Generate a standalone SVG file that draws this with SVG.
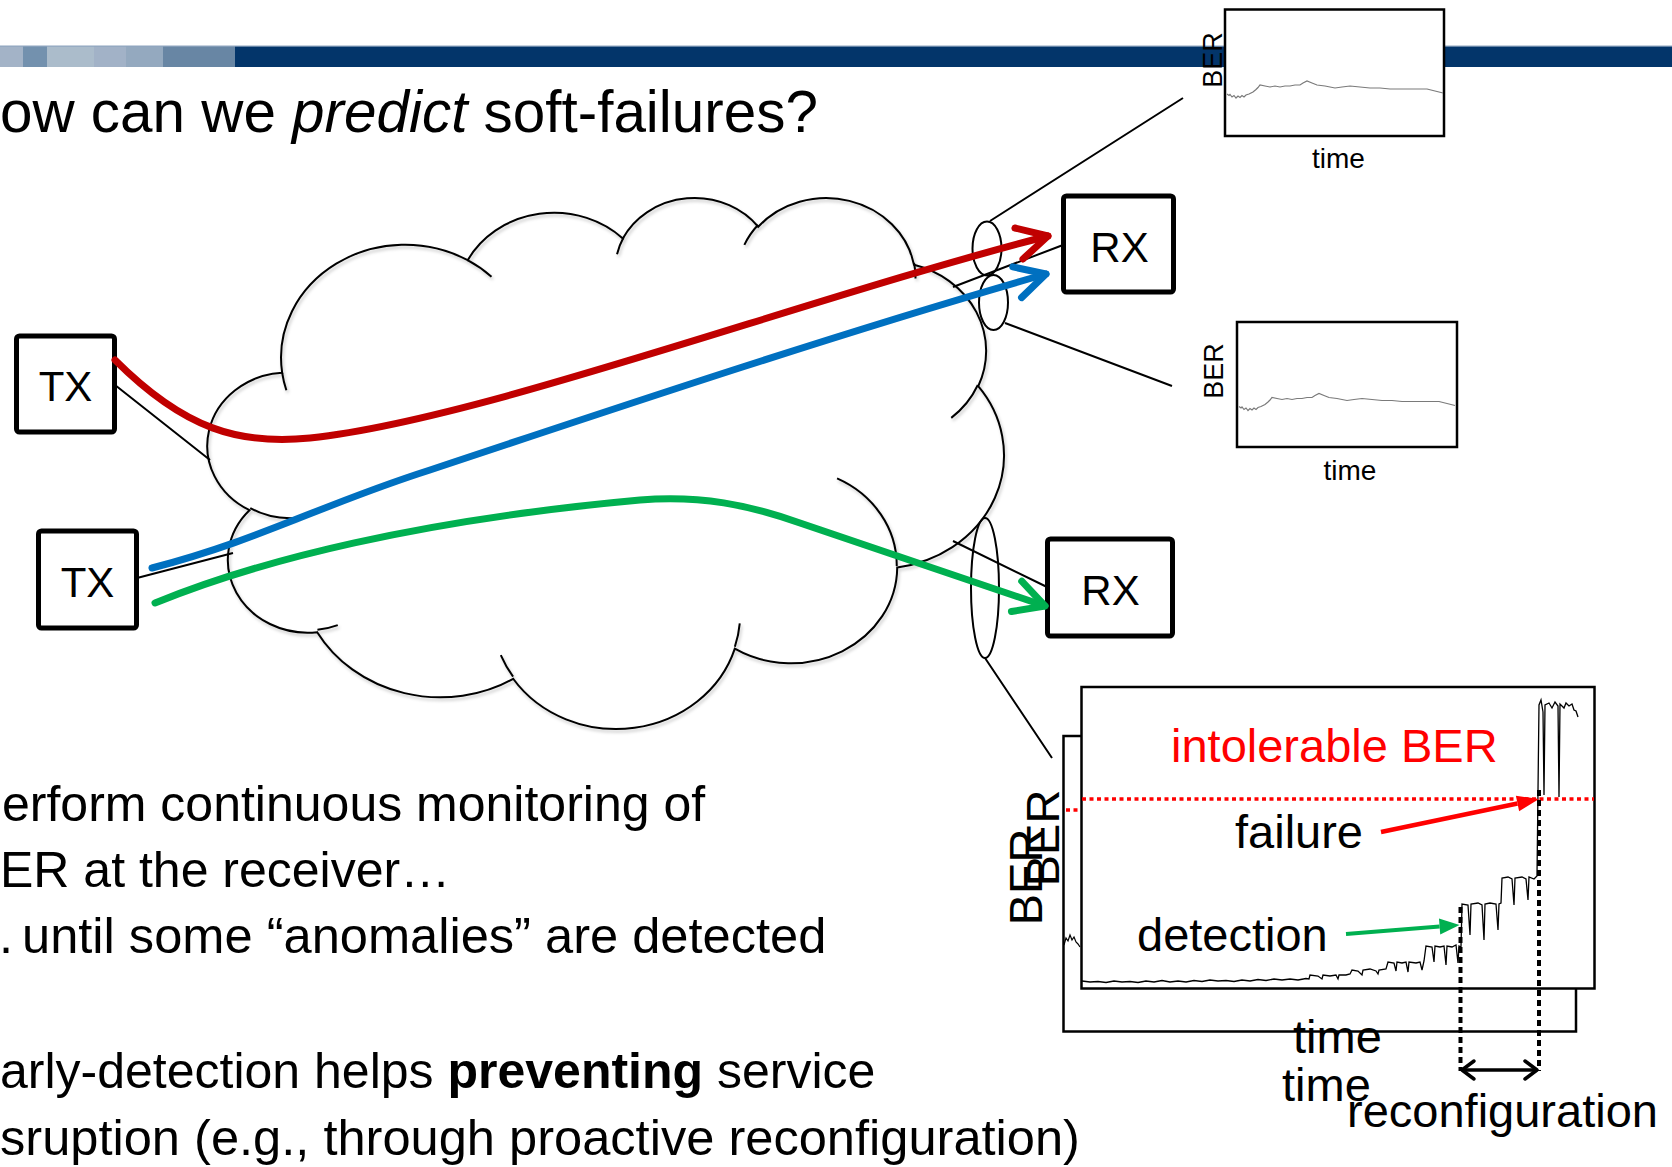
<svg xmlns="http://www.w3.org/2000/svg" width="1672" height="1167" viewBox="0 0 1672 1167">
<defs>
<style>
.t{font-family:"Liberation Sans",Arial,Helvetica,sans-serif;fill:#000}
.box{fill:#fff;stroke:#000;stroke-width:5}
.lbl{font-size:42px;text-anchor:middle}
.thin{fill:none;stroke:#000;stroke-width:2}
.cl{fill:none;stroke:#000;stroke-width:2;vector-effect:non-scaling-stroke}
.route{fill:none;stroke-width:7;stroke-linecap:round}
.frame{fill:#fff;stroke:#000;stroke-width:2.5}
.trace{fill:none;stroke:#7a7a7a;stroke-width:1.2}
.axis{font-size:27px;text-anchor:middle}
.big{font-size:47px}
</style>
<filter id="soft" x="-5%" y="-5%" width="112%" height="115%">
<feDropShadow dx="1.5" dy="2.5" stdDeviation="1.6" flood-color="#000" flood-opacity="0.22"/>
</filter>
<marker id="hd-red" markerUnits="userSpaceOnUse" orient="auto" style="overflow:visible">
<path d="M-30,-16 L0,0 L-30,16" fill="none" stroke="#C00000" stroke-width="7" stroke-linecap="round" stroke-linejoin="round"/>
</marker>
<marker id="hd-blue" markerUnits="userSpaceOnUse" orient="auto" style="overflow:visible">
<path d="M-30,-16 L0,0 L-30,16" fill="none" stroke="#0070C0" stroke-width="7" stroke-linecap="round" stroke-linejoin="round"/>
</marker>
<marker id="hd-green" markerUnits="userSpaceOnUse" orient="auto" style="overflow:visible">
<path d="M-30,-16 L0,0 L-30,16" fill="none" stroke="#00B050" stroke-width="7" stroke-linecap="round" stroke-linejoin="round"/>
</marker>
<marker id="tri-red" markerUnits="userSpaceOnUse" orient="auto" style="overflow:visible">
<path d="M0,-8 L22,0 L0,8 Z" fill="#FF0000"/>
</marker>
<marker id="tri-green" markerUnits="userSpaceOnUse" orient="auto" style="overflow:visible">
<path d="M0,-8 L20,0 L0,8 Z" fill="#00B050"/>
</marker>
<marker id="chev-k" markerUnits="userSpaceOnUse" orient="auto-start-reverse" style="overflow:visible">
<path d="M-12,-9 L0,0 L-12,9" fill="none" stroke="#000" stroke-width="3.5" stroke-linecap="round" stroke-linejoin="round"/>
</marker>
<path id="ber-trace" d="M2,84.5 L4,86 L5,85 L7,87.5 L9,86 L11,88.5 L13,86.5 L15,88 L17,86 L19,87.5 L21,85.5 L24,84.5 L28,82.5 L31,80 L33,78 L35,75.5 L40,76.5 L45,77.5 L50,76.5 L55,77.5 L60,76.5 L65,76.5 L70,75.5 L75,75.5 L78,73.5 L82,71.5 L87,73.5 L92,75.5 L100,76.5 L110,78.5 L117,77.5 L125,76.5 L135,77.5 L145,78.5 L155,78.5 L165,79.5 L178,79.5 L190,79.5 L202,79.5 L210,81.5 L218,83.5"/>
</defs>

<rect width="1672" height="1167" fill="#fff"/>

<!-- header stripe -->
<g id="header-bar">
<rect x="0" y="46" width="1672" height="21" fill="#03356A"/>
<rect x="0" y="46" width="23" height="21" fill="#A3B3C7"/>
<rect x="23" y="46" width="24" height="21" fill="#7391AE"/>
<rect x="47" y="46" width="47" height="21" fill="#ABBCCB"/>
<rect x="94" y="46" width="32" height="21" fill="#A2B2C7"/>
<rect x="126" y="46" width="37" height="21" fill="#94A9BF"/>
<rect x="163" y="46" width="72" height="21" fill="#6886A4"/>
<rect x="0" y="45.5" width="1672" height="1.2" fill="#8FA6BF"/>
</g>

<!-- title -->
<text id="title" class="t" x="0" y="132" font-size="58.4">ow can we <tspan font-style="italic">predict</tspan> soft-failures?</text>

<!-- network cloud (standard cloud outline, lobes + inner seams) -->
<g id="cloud">
<path fill="#fff" transform="translate(210.6 196.3) scale(0.018356 0.012287)" d="M3900,14370 A6753,9190 0 0 1 14005,5202 A5333,7267 0 0 1 22457,3431 A4365,5945 0 0 1 29833,2478 A4857,6595 0 0 1 38319,5572 A5333,7273 0 0 1 41819,15456 A6775,9220 0 0 1 37406,30202 A5785,7867 0 0 1 28558,36812 A6752,9215 0 0 1 16484,39267 A7720,10543 0 0 1 5807,35473 A4360,5918 0 0 1 2117,25549 A4345,5945 0 0 1 3900,14370 Z"/>
<g filter="url(#soft)">
<g transform="translate(210.6 196.3) scale(0.018356 0.012287)">
<path class="cl" d="M3900,14370 A6753,9190 0 0 1 14005,5202 A5333,7267 0 0 1 22457,3431 A4365,5945 0 0 1 29833,2478 A4857,6595 0 0 1 38319,5572 A5333,7273 0 0 1 41819,15456 A6775,9220 0 0 1 37406,30202 A5785,7867 0 0 1 28558,36812 A6752,9215 0 0 1 16484,39267 A7720,10543 0 0 1 5807,35473 A4360,5918 0 0 1 2117,25549 A4345,5945 0 0 1 3900,14370 Z"/>
<path class="cl" d="M4693,26177 A4345,5945 0 0 1 2160,25380 M6928,34899 A4360,5918 0 0 1 5820,35281 M16478,39090 A6752,9215 0 0 1 15809,37346 M28827,34751 A6752,9215 0 0 1 28561,36659 M34129,22954 A5785,7867 0 0 1 37380,30090 M41798,15354 A5333,7273 0 0 1 40349,18031 M38324,5426 A4857,6595 0 0 1 38400,6690 M29078,3952 A4857,6595 0 0 1 29819,2340 M22141,4720 A4365,5945 0 0 1 22500,3331 M14000,5192 A6753,9190 0 0 1 15302,6543 M4127,15789 A6753,9190 0 0 1 3900,14370"/>
</g>
</g>
</g>

<!-- transmitters / receivers -->
<g id="tx-1">
<rect class="box" x="16.5" y="336" width="98" height="96" rx="3"/>
<text class="t lbl" x="65.5" y="401">TX</text>
</g>
<g id="tx-2">
<rect class="box" x="38.5" y="531" width="98" height="97" rx="3"/>
<text class="t lbl" x="87.5" y="597">TX</text>
</g>
<g id="rx-1">
<rect class="box" x="1063.5" y="196" width="110" height="96" rx="3"/>
<text class="t lbl" x="1119.5" y="262">RX</text>
</g>
<g id="rx-2">
<rect class="box" x="1047.5" y="539" width="125" height="97" rx="3"/>
<text class="t lbl" x="1110.5" y="605">RX</text>
</g>

<!-- BER monitor plots -->
<g id="ber-plot-1">
<rect class="frame" x="1225" y="9.5" width="219" height="126.5"/>
<use href="#ber-trace" class="trace" x="1225" y="9.5"/>
<text class="t axis" transform="translate(1222 60) rotate(-90)">BER</text>
<text class="t" x="1338.5" y="168" font-size="28" text-anchor="middle">time</text>
</g>
<g id="ber-plot-2">
<rect class="frame" x="1237" y="322" width="220" height="125"/>
<use href="#ber-trace" class="trace" x="1237" y="322"/>
<text class="t axis" transform="translate(1223 371) rotate(-90)">BER</text>
<text class="t" x="1350" y="480" font-size="28" text-anchor="middle">time</text>
</g>

<g id="ber-trend">
<rect class="frame" x="1063.5" y="736" width="512.5" height="295.5"/>
<path d="M1066,810 H1080" fill="none" stroke="#FF0000" stroke-width="3.5" stroke-dasharray="4 3.5"/>
<path d="M1064,945 L1066,938 L1068,941 L1070,935 L1072,940 L1074,937 L1076,942 L1078,944 L1080,947" fill="none" stroke="#000" stroke-width="1.2"/>
<text class="t big" transform="translate(1042 877) rotate(-90)" text-anchor="middle">BER</text>
<text class="t big" x="1282" y="1101">time</text>
<rect class="frame" x="1081.5" y="687" width="513" height="301.5"/>
<text class="t big" transform="translate(1059 838) rotate(-90)" text-anchor="middle">BER</text>
<text class="t big" x="1293" y="1053">time</text>
<path d="M1082,981 L1090,982 L1098,981.5 L1106,982.5 L1114,981 L1122,982 L1130,981.5 L1138,982.5 L1146,981 L1154,982 L1162,980.5 L1170,982 L1178,981 L1186,982 L1194,980.5 L1202,981.5 L1210,980 L1218,981 L1226,980.5 L1234,981.5 L1242,980 L1250,981 L1258,979.5 L1266,980.5 L1274,979 L1282,980 L1290,979 L1298,980 L1306,978.5 L1309,979 L1310,975 L1318,976 L1322,979 L1323,975 L1330,976 L1336,975 L1338,979 L1339,975 L1346,975 L1350,974 L1352,970 L1358,971 L1362,975 L1363,970 L1370,969 L1376,971 L1378,974 L1379,970 L1386,969 L1388,962 L1394,963 L1396,971 L1397,962 L1402,963 L1406,962 L1408,972 L1409,962 L1416,963 L1420,962 L1422,970 L1424,961 L1426,946 L1432,947 L1434,962 L1435,946 L1440,947 L1444,946 L1446,965 L1447,946 L1452,947 L1456,945 L1458,963 L1459,946 L1461,947 L1462,904 L1468,905 L1470,935 L1471,904 L1478,903 L1482,905 L1484,940 L1485,904 L1490,903 L1496,904 L1498,930 L1499,904 L1501,903 L1502,878 L1508,877 L1512,879 L1514,905 L1515,878 L1522,877 L1526,879 L1528,900 L1529,877 L1534,879 L1537,876 L1539,705 L1541,700 L1543,712 L1544,795 L1545,705 L1549,703 L1552,708 L1555,702 L1558,706 L1559,797 L1560,704 L1564,708 L1566,703 L1569,706 L1572,704 L1574,710 L1576,711 L1578,717" fill="none" stroke="#000" stroke-width="1.3"/>
<path d="M1082,799 H1594" fill="none" stroke="#FF0000" stroke-width="3.5" stroke-dasharray="4 3.5"/>
<text class="t big" x="1171" y="762" style="fill:#FF0000">intolerable BER</text>
<text class="t big" x="1235" y="848">failure</text>
<text class="t big" x="1137" y="951">detection</text>
<path d="M1381,832 L1517.5,803.5" fill="none" stroke="#FF0000" stroke-width="4.5" marker-end="url(#tri-red)"/>
<path d="M1346,934 L1439.6,926.6" fill="none" stroke="#00B050" stroke-width="4" marker-end="url(#tri-green)"/>
<path d="M1460.5,907 V1071 M1539,790 V1071" fill="none" stroke="#000" stroke-width="4" stroke-dasharray="6 4"/>
<path d="M1462,1070 H1537" fill="none" stroke="#000" stroke-width="3.5" marker-start="url(#chev-k)" marker-end="url(#chev-k)"/>
<text class="t big" x="1347" y="1127">reconfiguration</text>
</g>

<!-- connectors: taps, lenses, lightpaths -->
<g id="connectors">
<path class="thin" d="M115,385 L210,460 M137,578 L233,553 M953,287 L1063,245 M953,541 L1047,587"/>
<ellipse class="thin" cx="987" cy="248.5" rx="14.5" ry="27"/>
<ellipse class="thin" cx="993.5" cy="302.5" rx="14.5" ry="27.5"/>
<ellipse class="thin" cx="985" cy="588" rx="14" ry="70"/>
<path class="thin" d="M990,221 L1183,98 M1005,323 L1172,386 M985,658 L1052,758"/>
<path class="route" stroke="#C00000" d="M115,360 C185,430 240,445 310,438 C480,420 800,300 1048,236" marker-end="url(#hd-red)"/>
<path class="route" stroke="#0070C0" d="M152,568 C260,540 320,505 430,470 C640,400 850,330 1046,274" marker-end="url(#hd-blue)"/>
<path class="route" stroke="#00B050" d="M155,603 C260,560 420,520 640,500 C700,495 750,505 800,523 L1045,606" marker-end="url(#hd-green)"/>
</g>

<!-- bullet text -->
<g id="notes" class="t" font-size="50">
<text class="t" x="2" y="821">erform continuous monitoring of</text>
<text class="t" x="0" y="887">ER at the receiver…</text>
<text class="t" x="-1" y="953" font-size="50.6">.<tspan x="22">until some “anomalies” are detected</tspan></text>
<text class="t" x="0" y="1088">arly-detection helps <tspan font-weight="bold">preventing</tspan> service</text>
<text class="t" x="0" y="1155" font-size="50.6">sruption (e.g., through proactive reconfiguration)</text>
</g>
</svg>
